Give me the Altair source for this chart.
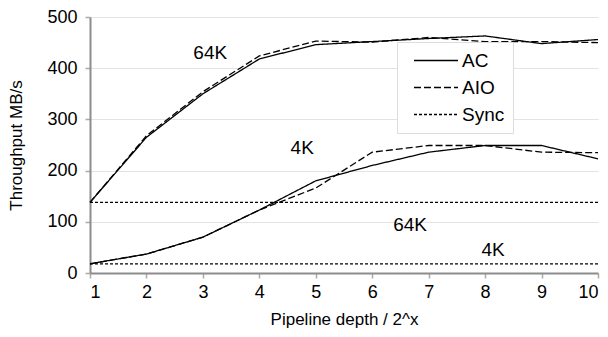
import altair as alt
import pandas as pd

depth = [1, 2, 3, 4, 5, 6, 7, 8, 9, 10]
ac_64k = [138, 265, 350, 418, 446, 452, 458, 463, 448, 456]
aio_64k = [138, 268, 354, 424, 453, 451, 460, 452, 452, 450]
sync_64k = [138, 138, 138, 138, 138, 138, 138, 138, 138, 138]
ac_4k = [18, 37, 70, 123, 180, 210, 236, 249, 249, 223]
aio_4k = [18, 37, 70, 123, 166, 236, 249, 249, 236, 235]
sync_4k = [18, 18, 18, 18, 18, 18, 18, 18, 18, 18]

methods = ["AC", "AIO", "Sync"]
series = [
    ("AC", "64K", ac_64k), ("AIO", "64K", aio_64k), ("Sync", "64K", sync_64k),
    ("AC", "4K", ac_4k), ("AIO", "4K", aio_4k), ("Sync", "4K", sync_4k),
]
rows = []
for m, s, vals in series:
    for x, v in zip(depth, vals):
        rows.append({"depth": x, "value": v, "method": m, "block": m + s})
df = pd.DataFrame(rows)

label_text = ["64K", "4K", "64K", "4K"]
label_x = [3.13, 4.76, 6.67, 8.14]
label_y = [430, 245, 94, 45]
labels = pd.DataFrame({"text": label_text, "x": label_x, "y": label_y})

FONT = "Liberation Sans"

xscale = alt.Scale(domain=[1, 10], nice=False, zero=False)
yscale = alt.Scale(domain=[0, 500], nice=False)

lines = alt.Chart(df).mark_line(color="black", strokeWidth=1.3).encode(
    x=alt.X("depth:Q", scale=xscale,
            axis=alt.Axis(title="Pipeline depth / 2^x", values=depth, format="d", grid=False,
                          tickSize=5, labelPadding=5, titlePadding=10)),
    y=alt.Y("value:Q", scale=yscale,
            axis=alt.Axis(title="Throughput MB/s", values=[0, 100, 200, 300, 400, 500],
                          format="d", grid=True, tickSize=5, labelPadding=8, titlePadding=21)),
    strokeDash=alt.StrokeDash("method:N",
        scale=alt.Scale(domain=methods, range=[[1, 0], [7, 3], [3, 2]]),
        legend=alt.Legend(title=None, orient="none", legendX=307, legendY=25,
                          symbolType="stroke", symbolSize=1936, symbolStrokeWidth=1.3,
                          symbolStrokeColor="black", labelFontSize=19, labelFont=FONT,
                          labelOffset=3, rowPadding=6, padding=8, clipHeight=21,
                          symbolOffset=8,
                          strokeColor="#dddddd", fillColor="white")),
    detail="block:N",
)

text = alt.Chart(labels).mark_text(font=FONT, fontSize=19, color="black").encode(
    x=alt.X("x:Q", scale=xscale),
    y=alt.Y("y:Q", scale=yscale),
    text="text:N",
)

chart = (lines + text).properties(
    width=508, height=256,
    autosize=alt.AutoSizeParams(type="none"),
    padding={"left": 82, "top": 9, "right": 2, "bottom": 56},
).configure_view(stroke=None).configure_axis(
    labelFont=FONT, titleFont=FONT, labelFontSize=18, titleFontSize=17,
    titleFontWeight="normal", labelColor="black", titleColor="black",
    domainColor="#8c8c8c", domainWidth=2, tickColor="#aaaaaa", tickWidth=1.5,
    gridColor="#e3e3e3", gridWidth=1,
)

chart.save("out.html", embed_options={"renderer": "svg", "actions": False})
